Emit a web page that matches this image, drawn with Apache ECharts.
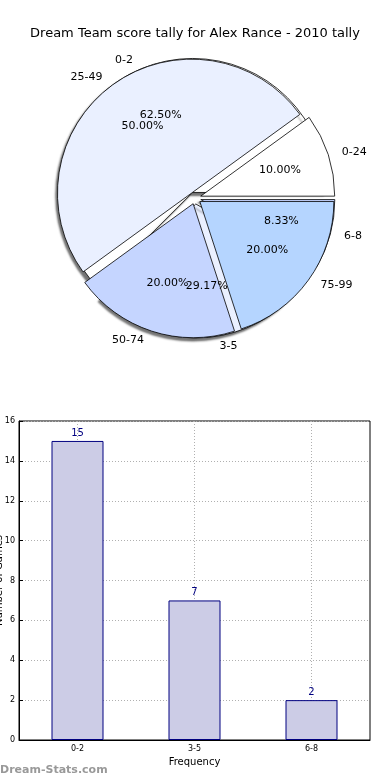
<!DOCTYPE html>
<html>
<head>
<meta charset="utf-8">
<script src="https://cdn.jsdelivr.net/npm/echarts@6/dist/echarts.min.js"></script>
<style>
html,body{margin:0;padding:0;background:#fff;}
#c{width:390px;height:780px;}
</style>
</head>
<body>
<div id="c"></div>
<script>
// ---- data ----
var titleText = 'Dream Team score tally for Alex Rance - 2010 tally';
var freqCategories = ['0-2', '3-5', '6-8'];
var freqValues = [15, 7, 2];
var freqColors = ['#ffffff', '#eaf0ff', '#c5d5ff'];
var scoreCategories = ['0-24', '25-49', '50-74', '75-99'];
var scoreValues = [1, 5, 2, 2];
var scoreColors = ['#ffffff', '#eaf0ff', '#c5d5ff', '#b5d5ff'];
var yTicks = {min: 0, max: 16, interval: 2};
var xName = 'Frequency';
var yName = 'Number of Games';
var watermark = 'Dream-Stats.com';

var FONT = 'DejaVu Sans';
var CX = 195, CY = 198, R = 134, OFF = 6;

function pieData(names, vals, colors, transparent) {
  return names.map(function (n, i) {
    return {
      name: n, value: vals[i], selected: true,
      itemStyle: transparent ? {color: 'rgba(0,0,0,0)', borderWidth: 0} : {color: colors[i]}
    };
  });
}

function shapePie(names, vals, colors, shadow) {
  return {
    type: 'pie', center: [CX, CY], radius: [0, R],
    startAngle: 0, clockwise: false,
    selectedMode: 'multiple', selectedOffset: OFF,
    avoidLabelOverlap: false, animation: false, silent: true,
    labelLayout: {hideOverlap: false},
    emphasis: {disabled: true, scale: false},
    itemStyle: Object.assign({borderColor: '#000', borderWidth: 0.8}, shadow ? {
      shadowColor: 'rgba(0,0,0,0.55)', shadowBlur: 2, shadowOffsetX: -3, shadowOffsetY: 3
    } : {}),
    label: {show: true, position: 'outside', formatter: '{b}', color: '#000',
      fontFamily: FONT, fontSize: 11, distanceToLabelLine: 5},
    labelLine: {show: false, length: 9, length2: 0},
    data: pieData(names, vals, colors, false)
  };
}

function pctPie(names, vals) {
  return {
    type: 'pie', center: [CX, CY], radius: [R * 0.2, R],
    startAngle: 0, clockwise: false,
    selectedMode: 'multiple', selectedOffset: OFF,
    avoidLabelOverlap: false, animation: false, silent: true,
    labelLayout: {hideOverlap: false},
    emphasis: {disabled: true, scale: false},
    label: {show: true, position: 'inside', color: '#000', fontFamily: FONT, fontSize: 11,
      formatter: function (p) { return p.percent.toFixed(2) + '%'; }},
    labelLine: {show: false},
    data: pieData(names, vals, null, true)
  };
}

var chart = echarts.init(document.getElementById('c'), null, {renderer: 'canvas'});
chart.setOption({
  animation: false,
  backgroundColor: '#fff',
  title: {text: titleText, left: 'center', top: 22,
    textStyle: {fontFamily: FONT, fontSize: 13, fontWeight: 'normal', color: '#000'}},
  grid: {left: 19, right: 20, top: 421, height: 319, containLabel: false, outerBoundsMode: 'none',
    show: true, borderColor: '#000', borderWidth: 1},
  xAxis: {
    type: 'category', data: freqCategories,
    name: xName, nameLocation: 'middle', nameGap: 17, nameMoveOverlap: false,
    nameTextStyle: {fontFamily: FONT, fontSize: 10, color: '#000'},
    axisLine: {lineStyle: {color: '#000'}},
    axisTick: {alignWithLabel: true, inside: true, length: 4, lineStyle: {color: '#000'}},
    axisLabel: {fontFamily: FONT, fontSize: 8, color: '#000', margin: 5},
    splitLine: {show: true, alignWithLabel: true, lineStyle: {color: '#b0b0b0', type: [1, 2], width: 1}}
  },
  yAxis: {
    type: 'value', min: yTicks.min, max: yTicks.max, interval: yTicks.interval,
    name: yName, nameLocation: 'middle', nameGap: 15, nameMoveOverlap: false,
    nameTextStyle: {fontFamily: FONT, fontSize: 10, color: '#000'},
    axisLine: {show: true, lineStyle: {color: '#000'}},
    axisTick: {show: true, inside: true, length: 4, lineStyle: {color: '#000'}},
    axisLabel: {fontFamily: FONT, fontSize: 8, color: '#000', margin: 4},
    splitLine: {show: true, lineStyle: {color: '#b0b0b0', type: [1, 2], width: 1}}
  },
  graphic: [{
    type: 'text', left: 0, top: 765,
    style: {text: watermark, fill: '#999999', font: 'bold 11px "DejaVu Sans"'}
  }],
  series: [
    shapePie(freqCategories, freqValues, freqColors, true),
    shapePie(scoreCategories, scoreValues, scoreColors, false),
    pctPie(freqCategories, freqValues),
    pctPie(scoreCategories, scoreValues),
    {
      type: 'bar', data: freqValues, barWidth: 52,
      itemStyle: {color: '#cccce6', borderColor: '#000080', borderWidth: 1},
      label: {show: true, position: 'top', color: '#000080', fontFamily: FONT, fontSize: 10, distance: 3},
      silent: true
    }
  ]
});
</script>
</body>
</html>
